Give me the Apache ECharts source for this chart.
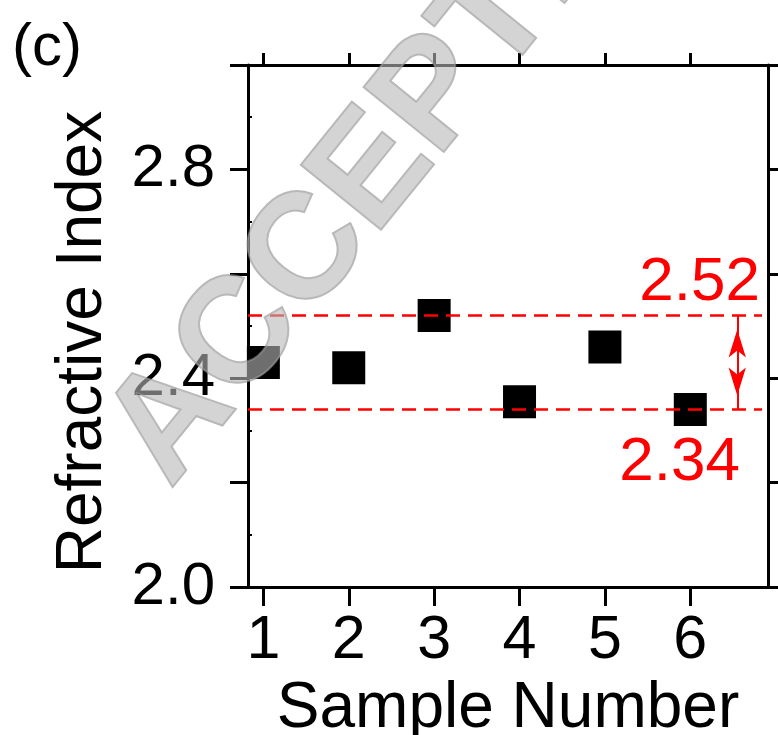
<!DOCTYPE html>
<html>
<head>
<meta charset="utf-8">
<script src="https://cdn.jsdelivr.net/npm/echarts@6/dist/echarts.min.js"></script>
<style>
  html, body { margin: 0; padding: 0; background: #ffffff; }
  #chart { width: 778px; height: 735px; }
</style>
</head>
<body>
<div id="chart"></div>
<script>
// Refractive index measured on six samples
const sampleNumbers = [1, 2, 3, 4, 5, 6];
const refractiveIndex = [2.43, 2.42, 2.52, 2.355, 2.46, 2.34];

// Axis tick labels
const xTickLabels = ['1', '2', '3', '4', '5', '6'];
const yTickLabels = ['2.0', '2.4', '2.8'];
const yMinorTicks = [2.1, 2.3, 2.5, 2.7, 2.9];

// Upper and lower bounds of the spread, with their labels
const spreadBounds = [2.52, 2.34];
const spreadLabels = ['2.52', '2.34'];

const FONT = '"Liberation Sans", Arial, Helvetica, sans-serif';
const RED = '#ff0000';
const X_MIN = 0.82, X_MAX = 6.91;
const BAND_END = 6.84;
const ARROW_X = 6.55;

const chart = echarts.init(document.getElementById('chart'), null, { renderer: 'canvas' });

const axisLine = { show: true, onZero: false, lineStyle: { color: '#000', width: 3 } };

const option = {
  animation: false,
  backgroundColor: '#ffffff',
  grid: { left: 248, right: 10, top: 65, bottom: 148, containLabel: false, outerBoundsMode: 'none' },
  xAxis: [
    {
      type: 'value', position: 'bottom', min: X_MIN, max: X_MAX,
      axisLine: axisLine,
      axisTick: { show: true, customValues: sampleNumbers, length: 19, lineStyle: { color: '#000', width: 3 } },
      axisLabel: {
        show: true, customValues: sampleNumbers, margin: 24,
        formatter: v => xTickLabels[sampleNumbers.indexOf(Math.round(v))] || '',
        color: '#000', fontSize: 61, fontFamily: FONT
      },
      splitLine: { show: false },
      name: 'Sample Number', nameLocation: 'middle', nameGap: 84,
      nameTextStyle: { color: '#000', fontSize: 64, fontFamily: FONT }
    },
    {
      type: 'value', position: 'top', min: X_MIN, max: X_MAX,
      axisLine: axisLine,
      axisTick: { show: true, customValues: sampleNumbers, length: 12, lineStyle: { color: '#000', width: 3 } },
      axisLabel: { show: false },
      splitLine: { show: false }
    }
  ],
  yAxis: [
    {
      type: 'value', position: 'left', min: 2.0, max: 3.0, interval: 0.2,
      axisLine: axisLine,
      axisTick: { show: true, length: 18, lineStyle: { color: '#000', width: 3 } },
      axisLabel: {
        show: true, customValues: yTickLabels.map(Number), margin: 33,
        formatter: v => v.toFixed(1),
        color: '#000', fontSize: 60, fontFamily: FONT
      },
      splitLine: { show: false },
      name: 'Refractive Index', nameLocation: 'middle', nameGap: 133,
      nameTextStyle: { color: '#000', fontSize: 64, fontFamily: FONT, padding: [0, 32, 0, 0] }
    },
    {
      type: 'value', position: 'right', min: 2.0, max: 3.0, interval: 0.2,
      axisLine: axisLine,
      axisTick: { show: true, length: 16, lineStyle: { color: '#000', width: 3 } },
      axisLabel: { show: false },
      splitLine: { show: false }
    },
    {
      // small inward minor ticks on the left spine
      type: 'value', position: 'left', min: 2.0, max: 3.0,
      axisLine: { show: false },
      axisTick: { show: true, inside: true, customValues: yMinorTicks, length: 4, lineStyle: { color: '#000', width: 2 } },
      axisLabel: { show: false },
      splitLine: { show: false }
    }
  ],
  series: [
    {
      type: 'scatter',
      xAxisIndex: 0, yAxisIndex: 0,
      symbol: 'rect', symbolSize: 33,
      itemStyle: { color: '#000', opacity: 1 },
      data: sampleNumbers.map((s, i) => [s, refractiveIndex[i]]),
      z: 3,
      markLine: {
        silent: true,
        symbol: 'none',
        animation: false,
        data: [
          [
            { coord: [X_MIN, spreadBounds[0]],
              lineStyle: { color: RED, width: 2.5, type: [14, 8] },
              label: {
                show: true, position: 'insideEndTop', formatter: spreadLabels[0], distance: 2,
                color: RED, fontSize: 62, fontFamily: FONT
              } },
            { coord: [BAND_END, spreadBounds[0]] }
          ],
          [
            { coord: [X_MIN, spreadBounds[1]],
              lineStyle: { color: RED, width: 2.5, type: [14, 8] },
              label: {
                show: true, position: 'insideEndBottom', formatter: spreadLabels[1], distance: 22,
                color: RED, fontSize: 62, fontFamily: FONT
              } },
            { coord: [BAND_END, spreadBounds[1]] }
          ],
          [
            { coord: [ARROW_X, spreadBounds[0]], symbol: 'arrow', symbolSize: [13, 28], symbolOffset: [0, 14],
              lineStyle: { color: RED, width: 2, type: 'solid' }, label: { show: false } },
            { coord: [ARROW_X, spreadBounds[1]], symbol: 'arrow', symbolSize: [13, 28], symbolOffset: [0, 14] }
          ]
        ]
      }
    }
  ],
  graphic: [
    {
      type: 'text', left: 12, top: 18,
      style: { text: '(c)', fill: '#000', fontSize: 60, fontFamily: FONT }
    },
    {
      type: 'text', x: 138, y: 464, rotation: 51 * Math.PI / 180, z: 100,
      silent: true,
      style: {
        text: 'ACCEPTED', fill: '#b8b8b8', opacity: 0.6,
        stroke: '#8a8a8a', lineWidth: 2,
        fontSize: 150, fontWeight: 'bold', fontFamily: FONT, align: 'left', verticalAlign: 'middle'
      }
    }
  ]
};

chart.setOption(option);
</script>
</body>
</html>
